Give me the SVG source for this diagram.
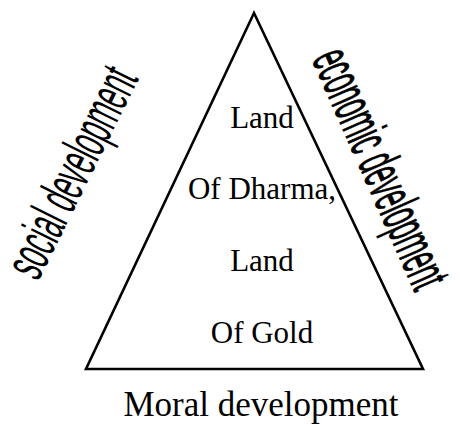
<svg xmlns="http://www.w3.org/2000/svg" width="460" height="425" viewBox="0 0 460 425">
  <style>
    .edge { fill: none; stroke: #000; stroke-width: 2.6; stroke-linejoin: miter; }
    .inner { font-family: "Liberation Serif", "Times New Roman", serif; font-size: 31px; fill: #000; text-anchor: middle; }
    .side { font-family: "Liberation Sans", Arial, sans-serif; fill: #000; text-anchor: middle; }
    .base { font-family: "Liberation Serif", "Times New Roman", serif; font-size: 35px; fill: #000; text-anchor: middle; }
  </style>
  <rect width="460" height="425" fill="#fff"/>

  <!-- triangle outline -->
  <g id="connectors">
    <path class="edge" d="M254,13 L86,369 L423,369 Z"/>
  </g>

  <!-- central label -->
  <g id="centre">
    <text class="inner" x="262" y="128">Land</text>
    <text class="inner" x="262" y="199">Of Dharma,</text>
    <text class="inner" x="262" y="271">Land</text>
    <text class="inner" x="262" y="343">Of Gold</text>
  </g>

  <!-- left side label, condensed and rotated along the edge -->
  <g id="social">
    <text class="side" font-size="56" transform="translate(76,174) rotate(-63.6)" x="0" y="14" textLength="227" lengthAdjust="spacingAndGlyphs">social development</text>
  </g>

  <!-- right side label, condensed and rotated along the edge -->
  <g id="economic">
    <text class="side" font-size="58" stroke="#000" stroke-width="0.9" transform="translate(377,170) rotate(66.2)" x="0" y="15" textLength="256" lengthAdjust="spacingAndGlyphs">economic development</text>
  </g>

  <!-- bottom label -->
  <g id="moral">
    <text class="base" x="261" y="416">Moral development</text>
  </g>
</svg>
